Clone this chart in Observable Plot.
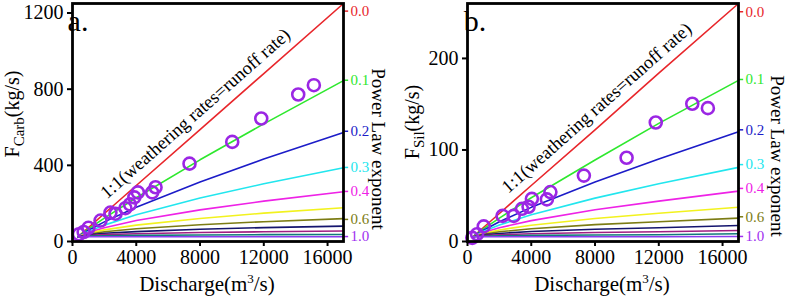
<!DOCTYPE html>
<html><head><meta charset="utf-8">
<script src="https://cdn.jsdelivr.net/npm/d3@7"></script>
<script src="https://cdn.jsdelivr.net/npm/@observablehq/plot@0.6"></script>
<style>
body{margin:0;background:#fff}
#wrap{display:flex;width:787px;height:301px;overflow:hidden}
svg{display:block}
</style>
</head><body><div id="wrap"></div>
<script>
// ---------- data ----------
const exponents = ["0.0","0.1","0.2","0.3","0.4","0.5","0.6","0.7","0.8","0.9","1.0"];
const curveColors = ["#e8262b","#2ee82e","#1c1cc8","#22e6ee","#ee22e6","#f2f21e","#7c7c14","#14146e","#a01e82","#127a7a","#8a3cf0"];
const curveQ = [340, 1000, 2000, 4000, 8000, 12000, 17000];

// panel a: F_Carb model curves (kg/s) at curveQ
const carbCurves = [
  [25, 73, 147, 294, 588, 882, 1250],
  [25, 66, 123, 230, 429, 618, 845],
  [25, 59, 103, 180, 313, 433, 572],
  [25, 53, 86, 140, 228, 303, 387],
  [25, 48, 72, 110, 166, 212, 261],
  [25, 43, 61, 86, 121, 149, 177],
  [25, 38, 51, 67, 88, 104, 120],
  [25, 35, 43, 52, 64, 73, 81],
  [25, 31, 36, 41, 47, 51, 55],
  [25, 28, 30, 32, 34, 36, 37],
  [25, 25, 25, 25, 25, 25, 25]
];
// panel b: F_Sil model curves
const silCurves = [
  [5.2, 15.3, 30.6, 61.2, 122, 184, 260],
  [5.2, 13.7, 25.6, 47.8, 89, 129, 176],
  [5.2, 12.3, 21.5, 37.3, 65, 90, 120],
  [5.2, 11.1, 18.0, 29.2, 47.4, 63, 81],
  [5.2, 9.9, 15.1, 22.8, 34.6, 44.1, 55],
  [5.2, 8.9, 12.6, 17.8, 25.2, 30.9, 37.5],
  [5.2, 8.0, 10.6, 13.9, 18.4, 21.6, 25.5],
  [5.2, 7.2, 8.8, 10.9, 13.4, 15.1, 17.5],
  [5.2, 6.5, 7.4, 8.5, 9.8, 10.6, 12],
  [5.2, 5.8, 6.2, 6.7, 7.1, 7.4, 8.5],
  [5.2, 5.2, 5.2, 5.2, 5.2, 5.2, 5.4]
];

// observations
const carbQ = [400, 700, 1000, 1760, 2380, 2700, 3320, 3600, 3880, 4100, 5000, 5210, 7340, 10020, 11840, 14160, 15140];
const carbF = [38, 50, 72, 110, 152, 146, 175, 195, 232, 258, 258, 285, 409, 523, 646, 772, 821];
const silQ = [300, 600, 1020, 2200, 2900, 3420, 3830, 4040, 4980, 5200, 7300, 9980, 11810, 14100, 15080];
const silF = [4, 8, 16.5, 28, 28, 35.7, 38, 46.6, 46, 54, 72, 91.5, 130, 150.5, 145.7];

// right-hand exponent labels
const labelText = ["0.0","0.1","0.2","0.3","0.4","0.6","1.0"];
const labelColors = ["#e8262b","#2ee82e","#1c1cc8","#22e6ee","#ee22e6","#7c7c14","#a030f0"];
const carbLabelF = [1210, 847, 579, 389, 263, 116, 26];
const silLabelF = [251, 177, 122, 84, 58, 27, 5.5];

const xTicks = [0, 4000, 8000, 12000, 16000];
const carbTicks = [0, 400, 800, 1200];
const silTicks = [0, 100, 200];
const ANNOT = "1:1(weathering rates=runoff rate)";

const FONT = '"Liberation Serif","Times New Roman",serif';
const xMax = 17000;

function panel(o) {
  const curveRows = [];
  o.curves.forEach((arr, i) => arr.forEach((F, j) => curveRows.push({Q: curveQ[j], F, e: exponents[i], c: curveColors[i]})));
  const obs = o.obsQ.map((Q, i) => ({Q, F: o.obsF[i]}));
  const labs = labelText.map((t, i) => ({t, F: o.labelF[i], c: labelColors[i]}));
  const svg = Plot.plot({
    width: o.width, height: 301,
    marginLeft: o.ml, marginRight: o.mr, marginTop: 3, marginBottom: 60,
    style: {fontFamily: FONT, background: "white", color: "black", overflow: "visible"},
    x: {domain: [0, xMax]},
    y: {domain: [0, o.yMax]},
    color: {type: "identity"},
    marks: [
      Plot.line(curveRows, {x: "Q", y: "F", z: "e", stroke: "c", strokeWidth: 1.6}),
      Plot.dot(obs, {x: "Q", y: "F", r: 6, stroke: "#9b26e4", strokeWidth: 2.6, fill: "none"}),
      Plot.text([ANNOT], {x: () => o.annot[0], y: () => o.annot[1], text: d => d, rotate: -41.5, fontSize: 18.5, fill: "black", textAnchor: "middle"}),
      Plot.ruleY(labs, {y: "F", x1: () => xMax, x2: () => xMax * 1.019, stroke: "c", strokeWidth: 1.5}),
      Plot.text(labs, {y: "F", frameAnchor: "right", dx: 7, text: "t", fill: "c", textAnchor: "start", fontSize: 15}),
      Plot.axisX({ticks: xTicks, tickFormat: d3.format("d"), tickSize: 5, tickPadding: 3, label: null, fontSize: 20, strokeWidth: 2}),
      Plot.axisY({ticks: o.yTicks, tickFormat: d3.format("d"), tickSize: 5, tickPadding: 4, label: null, fontSize: 20, strokeWidth: 2}),
      Plot.frame({stroke: "black", strokeWidth: 2.8})
    ]
  });
  const s = d3.select(svg);
  // panel letter
  s.append("text").attr("x", o.letterX).attr("y", 31).attr("font-size", 30).attr("font-family", FONT).text(o.letter);
  // y label with subscript
  const yl = s.append("text").attr("transform", `translate(${o.ylX},${o.ylY}) rotate(-90)`)
    .attr("text-anchor", "middle").attr("font-size", 20).attr("font-family", FONT);
  yl.append("tspan").text("F");
  yl.append("tspan").attr("dy", 5).attr("font-size", 15).text(o.sub);
  yl.append("tspan").attr("dy", -5).text("(kg/s)");
  // x label with superscript
  const xl = s.append("text").attr("x", o.xlX).attr("y", 291).attr("text-anchor", "middle")
    .attr("font-size", 21).attr("font-family", FONT);
  xl.append("tspan").text("Discharge(m");
  xl.append("tspan").attr("dy", -8).attr("font-size", 13).text("3");
  xl.append("tspan").attr("dy", 8).text("/s)");
  // right label
  s.append("text").attr("transform", `translate(${o.plX},${o.plY}) rotate(90)`)
    .attr("text-anchor", "middle").attr("font-size", 19).attr("font-family", FONT).text("Power Law exponent");
  return svg;
}

const wrap = document.getElementById("wrap");
wrap.appendChild(panel({
  width: 393, ml: 72, mr: 50, yMax: 1250, yTicks: carbTicks, curves: carbCurves,
  obsQ: carbQ, obsF: carbF, labelF: carbLabelF, annot: [7700, 672],
  letter: "a.", letterX: 78, sub: "Carb", ylX: 19, ylY: 114, xlX: 207, plX: 372, plY: 149
}));
wrap.appendChild(panel({
  width: 394, ml: 74, mr: 49, yMax: 260, yTicks: silTicks, curves: silCurves,
  obsQ: silQ, obsF: silF, labelF: silLabelF, annot: [8100, 146],
  letter: "b.", letterX: 82, sub: "Sil", ylX: 26, ylY: 122, xlX: 209, plX: 378, plY: 156
}));
</script>
</body></html>
